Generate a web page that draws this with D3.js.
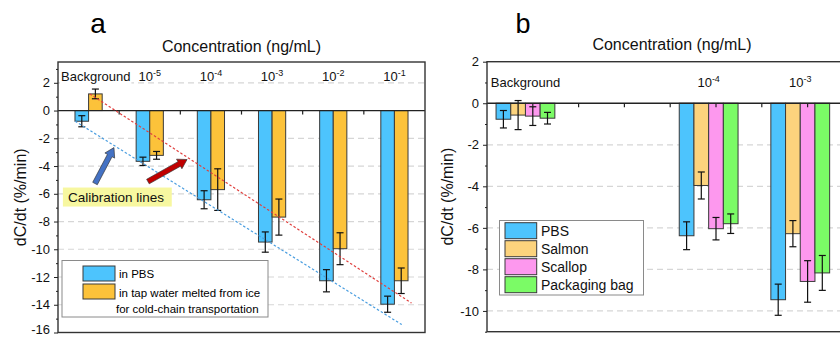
<!DOCTYPE html>
<html>
<head>
<meta charset="utf-8">
<script src="https://cdn.jsdelivr.net/npm/d3@7"></script>
<style>
	body { margin: 0; background: #fff; }
	svg { display: block; font-family: Arial, "Liberation Sans", sans-serif; }
	.tick text { font-size: 13px; fill: #111; }
	.tick line { stroke: #222; }
</style>
</head>
<body>
<svg id="chart" width="840" height="337"></svg>
<script>
// Panel a data
var catsA = ["Background", "-5", "-4", "-3", "-2", "-1"];
var pbsA = [-0.77, -3.66, -6.43, -9.48, -12.27, -13.96];
var pbsErrA = [0.40, 0.30, 0.65, 0.73, 0.80, 0.58];
var tapA = [1.20, -3.23, -5.70, -7.68, -9.96, -12.27];
var tapErrA = [0.35, 0.28, 1.50, 1.30, 1.15, 0.92];
var yMajorA = [2, 0, -2, -4, -6, -8, -10, -12, -14, -16];
var yMinorA = [3, 1, -1, -3, -5, -7, -9, -11, -13, -15];
var gridA = [2, -2, -4, -6, -8, -10, -12, -14];
// calibration lines, x in category units, y in %/min
var calibX0 = [0.52, 0.28];
var calibY0 = [1.20, -0.77];
var calibX1 = [5.78, 5.62];
var calibY1 = [-13.88, -15.43];
var legendA = ["in PBS", "in tap water melted from ice", "for cold-chain transportation"];

// Panel b data
var catsB = ["Background", "-4", "-3"];
var posB = [1, 5, 7];
var seriesB = ["PBS", "Salmon", "Scallop", "Packaging bag"];
var pbsB = [-0.77, -6.38, -9.46];
var pbsErrB = [0.42, 0.67, 0.75];
var salmonB = [-0.57, -3.96, -6.28];
var salmonErrB = [0.70, 0.65, 0.63];
var scallopB = [-0.62, -6.04, -8.58];
var scallopErrB = [0.45, 0.54, 1.00];
var bagB = [-0.72, -5.80, -8.17];
var bagErrB = [0.28, 0.47, 0.84];
var yMajorB = [2, 0, -2, -4, -6, -8, -10];
var yMinorB = [1, -1, -3, -5, -7, -9, -11];
var gridB = [-2, -4, -6, -8, -10];
var xTicksB = [1, 2, 3, 4, 5, 6, 7, 8];

var blue = "#4dc4fd", orange = "#fcc23a", salmon = "#fcd37d", pink = "#fd98ee", green = "#7bfb66";
var edge = "#3a3a3a";

var svg = d3.select("#chart");

function fmt(d) { return String(d); }

// y axis with major + minor ticks
function drawYAxis(g, y, left, major, minor) {
	var ax = g.append("g")
		.attr("transform", "translate(" + left + ",0)")
		.call(d3.axisLeft(y).tickValues(major).tickSize(4).tickPadding(4).tickFormat(fmt))
		.call(function(a) { a.select(".domain").remove(); });
	g.append("g")
		.attr("transform", "translate(" + left + ",0)")
		.call(d3.axisLeft(y).tickValues(minor).tickSize(2).tickFormat(""))
		.call(function(a) { a.select(".domain").remove(); });
	return ax;
}

function drawGrid(g, y, x0, x1, values) {
	g.selectAll(null).data(values).enter().append("line")
		.attr("x1", x0).attr("x2", x1)
		.attr("y1", function(d) { return y(d); })
		.attr("y2", function(d) { return y(d); })
		.attr("stroke", "#d6d6d6")
		.attr("stroke-width", 1.2)
		.attr("stroke-dasharray", "6,4");
}

function catLabel(g, cat, cx, by, minX) {
	var t = g.append("text")
		.attr("y", by)
		.attr("font-size", 13)
		.attr("fill", "#111");
	if (cat === "Background") {
		t.text(cat);
	} else {
		t.append("tspan").text("10");
		t.append("tspan").attr("font-size", 9).attr("dy", -5).text(cat);
	}
	var w = t.node().getComputedTextLength();
	var x = Math.max(cx - w / 2, minX);
	t.attr("x", x);
	return { x: x, w: w };
}

function bar(g, x, w, y, v, err, color) {
	g.append("rect")
		.attr("x", x).attr("width", w)
		.attr("y", y(Math.max(v, 0)))
		.attr("height", Math.abs(y(v) - y(0)))
		.attr("fill", color)
		.attr("stroke", edge)
		.attr("stroke-width", 1);
	var cx = x + w / 2;
	g.append("line")
		.attr("x1", cx).attr("x2", cx)
		.attr("y1", y(v + err)).attr("y2", y(v - err))
		.attr("stroke", "#111").attr("stroke-width", 1.2);
	[v + err, v - err].forEach(function(e) {
		g.append("line")
			.attr("x1", cx - 3.5).attr("x2", cx + 3.5)
			.attr("y1", y(e)).attr("y2", y(e))
			.attr("stroke", "#111").attr("stroke-width", 1.2);
	});
}

/* ---------------- Panel a ---------------- */
var a = svg.append("g");
var leftA = 58, rightA = 425, topA = 62, bottomA = 332.5;

var xA = d3.scaleBand().domain(catsA).range([leftA, rightA]).padding(0);
var yA = d3.scaleLinear().domain([-16, 3.5]).range([bottomA, topA]);
var uA = d3.scaleLinear().domain([0, catsA.length]).range([leftA, rightA]); // category units
var bwA = 13.6;

drawGrid(a, yA, leftA, rightA, gridA);

// labels along the top (white behind "Background" hides the grid)
catsA.forEach(function(c) {
	var cx = xA(c) + xA.bandwidth() / 2;
	var info = catLabel(a, c, cx, 80.5, leftA + 3);
	if (c === "Background") {
		a.insert("rect", "text")
			.attr("x", info.x - 1).attr("y", 79).attr("width", info.w + 2).attr("height", 7)
			.attr("fill", "#fff");
	}
});

catsA.forEach(function(c, i) {
	var cx = xA(c) + xA.bandwidth() / 2;
	bar(a, cx - bwA, bwA, yA, pbsA[i], pbsErrA[i], blue);
	bar(a, cx, bwA, yA, tapA[i], tapErrA[i], orange);
});

// zero line + category ticks
a.append("line")
	.attr("x1", leftA).attr("x2", rightA)
	.attr("y1", yA(0)).attr("y2", yA(0))
	.attr("stroke", "#222").attr("stroke-width", 1.3);
catsA.slice(1).forEach(function(c) {
	a.append("line")
		.attr("x1", xA(c)).attr("x2", xA(c))
		.attr("y1", yA(0)).attr("y2", yA(0) + 4)
		.attr("stroke", "#222").attr("stroke-width", 1.2);
});

// calibration lines
var calibColors = ["#e0413f", "#4a9ee0"];
calibX0.forEach(function(d, i) {
	a.append("line")
		.attr("x1", uA(calibX0[i])).attr("y1", yA(calibY0[i]))
		.attr("x2", uA(calibX1[i])).attr("y2", yA(calibY1[i]))
		.attr("stroke", calibColors[i])
		.attr("stroke-width", 1.2)
		.attr("stroke-dasharray", "2.5,2");
});

// arrows pointing at the lines
function arrow(g, x0, y0, x1, y1, fill) {
	var dx = x1 - x0, dy = y1 - y0, len = Math.sqrt(dx * dx + dy * dy);
	var ang = Math.atan2(dy, dx) * 180 / Math.PI;
	var hw = 2.6, hl = 9, hh = 5.5;
	var p = [[0, -hw], [len - hl, -hw], [len - hl, -hh], [len, 0], [len - hl, hh], [len - hl, hw], [0, hw]];
	g.append("path")
		.attr("d", "M" + p.join("L") + "Z")
		.attr("transform", "translate(" + x0 + "," + y0 + ") rotate(" + ang + ")")
		.attr("fill", fill)
		.attr("stroke", "#333")
		.attr("stroke-width", 0.6);
}
arrow(a, uA(0.605), yA(-5.26), uA(0.915), yA(-2.67), "#4472c4");
arrow(a, uA(1.47), yA(-5.12), uA(2.11), yA(-3.53), "#c00000");

a.append("rect")
	.attr("x", uA(0.08)).attr("y", yA(-5.55))
	.attr("width", uA(1.86) - uA(0.08)).attr("height", yA(-6.92) - yA(-5.55))
	.attr("fill", "#f7f7a0");
a.append("text")
	.attr("x", uA(0.08) + 5).attr("y", yA(-5.55) + 14)
	.attr("font-size", 13.5).attr("fill", "#111")
	.text("Calibration lines");

// legend a
a.append("rect")
	.attr("x", 62).attr("y", 260.5).attr("width", 206).attr("height", 56.5)
	.attr("fill", "#fff").attr("stroke", "#8a8a8a").attr("stroke-width", 1);
[blue, orange].forEach(function(c, i) {
	a.append("rect")
		.attr("x", 83).attr("y", 266 + i * 18).attr("width", 32).attr("height", 15)
		.attr("fill", c).attr("stroke", edge).attr("stroke-width", 1);
});
a.append("text").attr("x", 119).attr("y", 278).attr("font-size", 11.5).text(legendA[0]);
a.append("text").attr("x", 119).attr("y", 296.5).attr("font-size", 11.5).text(legendA[1]);
a.append("text").attr("x", 116).attr("y", 313).attr("font-size", 11.5).text(legendA[2]);

// frame + axis
a.append("rect")
	.attr("x", leftA).attr("y", topA).attr("width", rightA - leftA).attr("height", bottomA - topA)
	.attr("fill", "none").attr("stroke", "#333").attr("stroke-width", 1.4);
var axA = drawYAxis(a, yA, leftA, yMajorA, yMinorA);
// keep the lowest label inside the picture
axA.selectAll(".tick text").filter(function(d) { return d === -16; }).attr("dy", "0.1em");

a.append("text")
	.attr("transform", "translate(26," + ((topA + bottomA) / 2) + ") rotate(-90)")
	.attr("text-anchor", "middle").attr("font-size", 16).attr("fill", "#111")
	.text("dC/dt (%/min)");
a.append("text")
	.attr("x", (leftA + rightA) / 2).attr("y", 52)
	.attr("text-anchor", "middle").attr("font-size", 16).attr("fill", "#111")
	.text("Concentration (ng/mL)");
a.append("text")
	.attr("x", 98).attr("y", 33)
	.attr("text-anchor", "middle").attr("font-size", 28).attr("fill", "#000")
	.text("a");

/* ---------------- Panel b ---------------- */
var b = svg.append("g");
var leftB = 487, topB = 61.7, bottomB = 331.7, unitB = 45.8;
var xB = d3.scaleLinear().domain([0, 8]).range([leftB, leftB + 8 * unitB]);
var yB = d3.scaleLinear().domain([-11, 2]).range([bottomB, topB]);
var rightB = xB(8);
var bwB = 14.7;

drawGrid(b, yB, leftB, rightB, gridB);

var valsB = [pbsB, salmonB, scallopB, bagB];
var errsB = [pbsErrB, salmonErrB, scallopErrB, bagErrB];
var colorsB = [blue, salmon, pink, green];

catsB.forEach(function(c, j) {
	var t = xB(posB[j]);
	valsB.forEach(function(vals, i) {
		bar(b, t + (i - 2.5) * bwB, bwB, yB, vals[j], errsB[i][j], colorsB[i]);
	});
	catLabel(b, c, t - bwB / 2, 87.3, leftB + 3);
});

b.append("line")
	.attr("x1", leftB).attr("x2", rightB)
	.attr("y1", yB(0)).attr("y2", yB(0))
	.attr("stroke", "#222").attr("stroke-width", 1.3);
xTicksB.forEach(function(k) {
	b.append("line")
		.attr("x1", xB(k)).attr("x2", xB(k))
		.attr("y1", yB(0)).attr("y2", yB(0) + 4)
		.attr("stroke", "#222").attr("stroke-width", 1.2);
});

// legend b
b.append("rect")
	.attr("x", 499.5).attr("y", 220.5).attr("width", 144).attr("height", 74.5)
	.attr("fill", "#fff").attr("stroke", "#8a8a8a").attr("stroke-width", 1);
seriesB.forEach(function(s, i) {
	b.append("rect")
		.attr("x", 505).attr("y", 222.7 + i * 18).attr("width", 31.7).attr("height", 16)
		.attr("fill", colorsB[i]).attr("stroke", edge).attr("stroke-width", 1);
	b.append("text")
		.attr("x", 541).attr("y", 236 + i * 18)
		.attr("font-size", 14).attr("fill", "#111")
		.text(s);
});

b.append("rect")
	.attr("x", leftB).attr("y", topB).attr("width", rightB - leftB).attr("height", bottomB - topB)
	.attr("fill", "none").attr("stroke", "#333").attr("stroke-width", 1.4);
drawYAxis(b, yB, leftB, yMajorB, yMinorB);

b.append("text")
	.attr("transform", "translate(453," + ((topB + bottomB) / 2) + ") rotate(-90)")
	.attr("text-anchor", "middle").attr("font-size", 16).attr("fill", "#111")
	.text("dC/dt (%/min)");
b.append("text")
	.attr("x", 672).attr("y", 49.5)
	.attr("text-anchor", "middle").attr("font-size", 16).attr("fill", "#111")
	.text("Concentration (ng/mL)");
b.append("text")
	.attr("x", 523).attr("y", 33)
	.attr("text-anchor", "middle").attr("font-size", 27).attr("fill", "#000")
	.text("b");
</script>
</body>
</html>
